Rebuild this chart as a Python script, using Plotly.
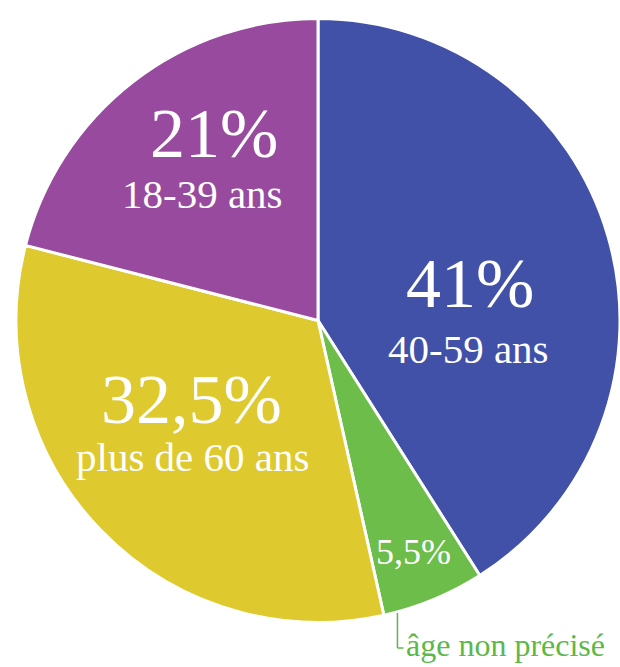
import math
import plotly.graph_objects as go

# Data (clockwise from 12 o'clock)
categories = ["40-59 ans", "âge non précisé", "plus de 60 ans", "18-39 ans"]
values = [41, 5.5, 32.5, 21]
pct_labels = ["41%", "5,5%", "32,5%", "21%"]
colors = ["#4151A8", "#6CBD4A", "#DEC92F", "#984B9E"]

W, H = 620, 667
CX, CY, R = 318.0, 320.5, 302.0  # pie geometry in px (from domain below)
FONT = "Liberation Serif, Times New Roman, serif"


def px(x, y):
    return x / W, 1 - y / H


fig = go.Figure(go.Pie(
    labels=categories,
    values=values,
    sort=False,
    direction="clockwise",
    rotation=0,
    marker=dict(colors=colors, line=dict(color="white", width=3)),
    textinfo="none",
    hoverinfo="label+percent",
    showlegend=False,
    domain=dict(x=[16 / W, 1.0], y=[1 - 622.5 / H, 1 - 18.5 / H]),
))

annotations = []


def add_text(text, x, y, size, color="white", xanchor="center"):
    xp, yp = px(x, y)
    annotations.append(dict(text=text, x=xp, y=yp, xref="paper", yref="paper",
                            showarrow=False, xanchor=xanchor, yanchor="middle",
                            font=dict(family=FONT, size=size, color=color)))


# Hand-placed labels, as in the reference
add_text(pct_labels[0], 470, 283, 70)
add_text(categories[0], 468, 349, 41)
add_text(pct_labels[3], 214, 133, 70)
add_text(categories[3], 202, 194, 41)
add_text(pct_labels[2], 191, 399, 70)
add_text(categories[2], 192, 457, 41)

# Small slice label placed from the data (middle of the green slice)
total = sum(values)
start = sum(values[:1]) / total * 360
end = sum(values[:2]) / total * 360
mid = math.radians((start + end) / 2)
rl = 0.83 * R
add_text(pct_labels[1], CX + rl * math.sin(mid), CY - rl * math.cos(mid), 36)

# Leader line from the green slice rim to its category label
th = math.radians(end - 2.6)
sx = CX + (R + 1) * math.sin(th)
sy = CY - (R + 1) * math.cos(th)
ly = 648
x0, y0 = px(sx, sy)
x1, y1 = px(sx, ly)
x2, _ = px(sx + 6, ly)
shapes = [
    dict(type="line", xref="paper", yref="paper", x0=x0, y0=y0, x1=x1, y1=y1,
         line=dict(color="#5CB848", width=1.5)),
    dict(type="line", xref="paper", yref="paper", x0=x1, y0=y1, x1=x2, y1=y1,
         line=dict(color="#5CB848", width=1.5)),
]
add_text(categories[1], sx + 7, ly - 3, 32, color="#5CB848", xanchor="left")

fig.update_layout(
    width=W, height=H,
    margin=dict(l=0, r=0, t=0, b=0),
    paper_bgcolor="white",
    plot_bgcolor="white",
    annotations=annotations,
    shapes=shapes,
)

fig.write_html("out.html", config={"displayModeBar": False},
               post_script="document.body.style.margin='0';")
